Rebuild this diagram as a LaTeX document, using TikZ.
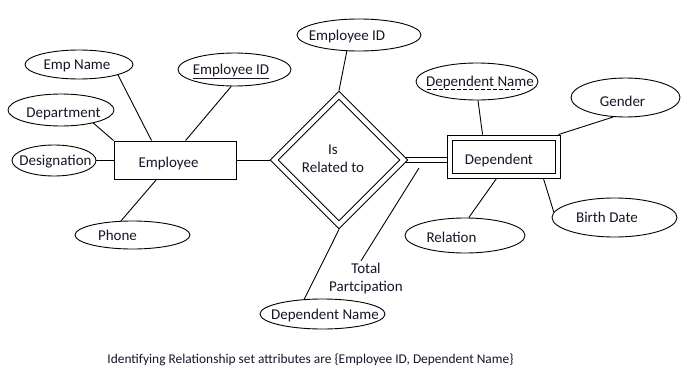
\documentclass[tikz,border=0pt]{standalone}
\usepackage{fontspec}
\setmainfont{Carlito}
\usetikzlibrary{shapes.geometric,calc}
\definecolor{ink}{RGB}{22,22,40}
% text of zero width, shifted by #1 horizontally and raised by #2 from the node centre
\newcommand{\shiftedtext}[3]{\makebox[0pt]{\kern#1\kern#1\raisebox{#2}{#3}}}
\begin{document}
\begin{tikzpicture}[x=1pt,y=-1pt,line width=0.9pt,
  every node/.style={text=ink,font=\fontsize{15}{18}\selectfont},
  lbl/.style={text height=13pt,text depth=3pt},
  attr/.style={draw,ellipse,inner sep=0pt,lbl},
  entity/.style={draw,rectangle,inner sep=0pt,lbl},
  relshape/.style={draw,diamond,inner sep=0pt,aspect=1}]
\useasboundingbox[fill=white] (0,0) rectangle (686,380);

% strong entity and its attributes
\node[entity,minimum width=122,minimum height=38] (emp) at (175,160) {\shiftedtext{-6.5pt}{-2pt}{Employee}};
\node[attr,minimum width=108,minimum height=29] (empname) at (79,64.5) {\shiftedtext{-2pt}{0pt}{Emp Name}};
\node[attr,minimum width=113,minimum height=33] (empid) at (234.5,69.5) {\shiftedtext{-3.5pt}{0pt}{\underline{Employee ID}}};
\node[attr,minimum width=106,minimum height=32] (dept) at (61,110) {\shiftedtext{2.5pt}{-2pt}{Department}};
\node[attr,minimum width=84,minimum height=31] (desig) at (54,160.5) {\shiftedtext{1.5pt}{0pt}{Designation}};
\node[attr,minimum width=115,minimum height=28] (phone) at (132.5,235) {\shiftedtext{-15pt}{0pt}{Phone}};

% identifying relationship
\node[relshape,minimum width=138,minimum height=138] (rel) at (339,160) {};
\node[relshape,minimum width=122,minimum height=122] (relin) at (rel.center) {};
\node[align=center] (reltxt) at (333,158.5) {Is\\Related to};
\node[attr,minimum width=124,minimum height=32] (relid) at (359,35) {\shiftedtext{-12pt}{0pt}{Employee ID}};
\node[attr,minimum width=125,minimum height=30] (relname) at (322.5,314) {\shiftedtext{2.5pt}{0pt}{Dependent Name}};

% weak entity and its attributes
\node[entity,minimum width=113,minimum height=43] (depout) at (503.5,156.5) {};
\node[entity,minimum width=103,minimum height=33] (dep) at (depout.center) {\shiftedtext{-4.5pt}{-2.5pt}{Dependent}};
\node[attr,minimum width=122,minimum height=37] (depname) at (477,81.5) {\shiftedtext{3pt}{0pt}{Dependent Name}};
\node[attr,minimum width=109,minimum height=39] (gender) at (625.5,97.5) {\shiftedtext{-3pt}{-4pt}{Gender}};
\node[attr,minimum width=125,minimum height=39] (birth) at (614.5,217.5) {\shiftedtext{-7.5pt}{0pt}{Birth Date}};
\node[attr,minimum width=120,minimum height=35] (relation) at (465,235.5) {\shiftedtext{-13.5pt}{-1.5pt}{Relation}};

% partial key: dashed underline
\draw[line width=1.6pt,dash pattern=on 4pt off 2pt] ($(depname.center)+(-50,7.8)$) -- ++(93,0);

% total participation note
\node[align=center] (total) at (366,278.5) {Total\\Partcipation};
\coordinate (tp) at (419,168);

% caption
\node[lbl,font=\fontsize{13.4}{16}\selectfont] (caption) at (310.5,358.5)
  {Identifying Relationship set attributes are \{Employee ID, Dependent Name\}};

% connectors
\draw (empname.-15) -- ($(emp.north west)+(38,0)$);
\draw (empid.-101) -- ($(emp.north west)+(72,0)$);
\draw (dept.-22) -- (emp.north west);
\draw (desig.east) -- (desig.east -| emp.west);
\draw (phone.129) -- ($(emp.south west)+(43,0)$);
\draw (emp.east) -- (rel.west);
\draw (relid.-127) -- (rel.north);
\draw (relname.141) -- (rel.south);
\draw ($(rel.east)+(-2.5,-2.5)$) -- ($(rel.east -| depout.west)+(0,-2.5)$);
\draw ($(rel.east)+(-2.5,2.5)$) -- ($(rel.east -| depout.west)+(0,2.5)$);
\draw (tp) -- ($(total.north)+(-5,1.5)$);
\draw (depname.-87) -- ($(depout.north west)+(36,0)$);
\draw (gender.-122) -- ($(depout.north east)+(-2,0)$);
\draw (birth.175) -- ($(depout.south east)+(-17,0)$);
\draw (relation.78) -- ($(depout.south west)+(50,0)$);
\end{tikzpicture}
\end{document}
